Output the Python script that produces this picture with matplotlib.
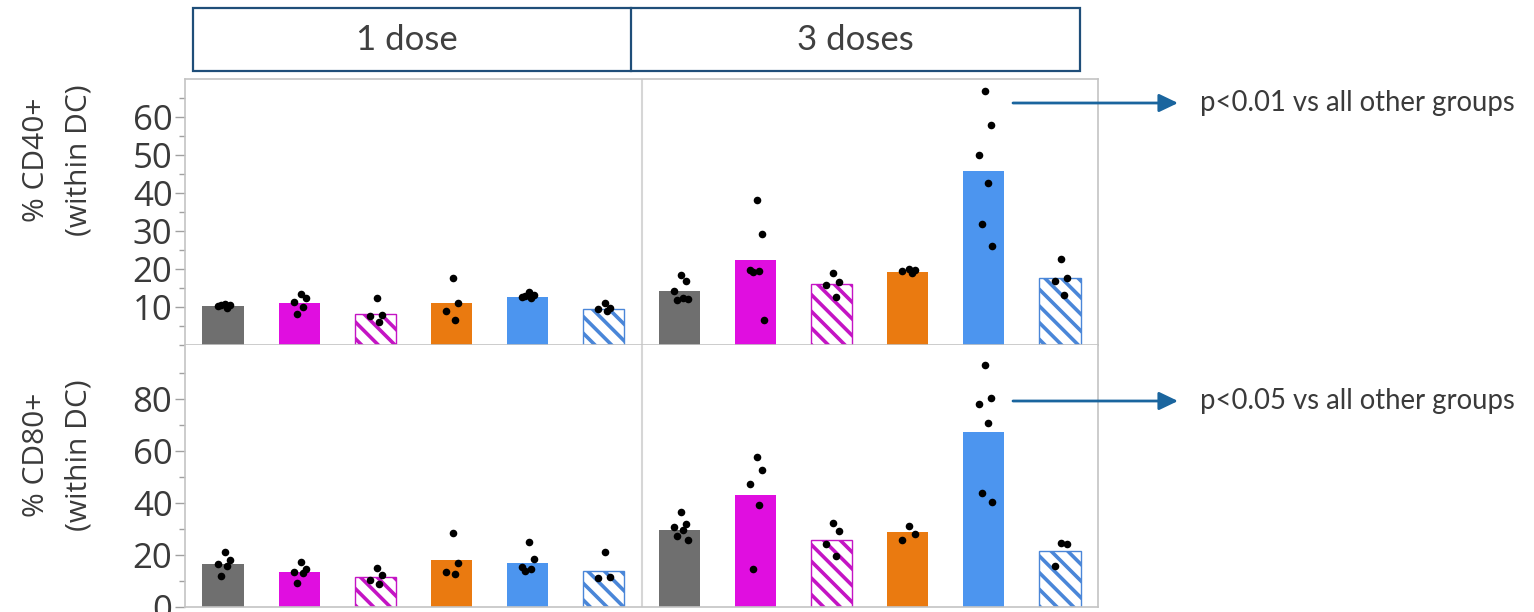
import numpy as np
import matplotlib
matplotlib.use("Agg")
import matplotlib.pyplot as plt
from matplotlib.patches import Rectangle, FancyArrowPatch
from matplotlib.lines import Line2D
from matplotlib.ticker import FixedLocator

# ---------------- data ----------------
groups = ["1 dose", "3 doses"]
n_per_group = 6
bar_colors = ["#6f6f6f", "#e00ee0", "#c414c4", "#ea7a10", "#4c95ef", "#4a86d8"]
hatched = [False, False, True, False, False, True]

cd40_means = [10.2, 10.9, 8.2, 10.9, 12.6, 9.4,
              14.2, 22.3, 15.9, 19.3, 45.9, 17.5]
cd40_points = [
    [10.8, 10.4, 10.1, 9.8, 10.5],
    [13.5, 12.2, 11.3, 10.0, 8.2],
    [12.2, 7.8, 7.6, 6.0],
    [17.7, 11.0, 8.9, 6.5],
    [14.0, 13.2, 12.6, 12.4, 12.8],
    [11.0, 9.6, 9.3, 8.9],
    [18.5, 16.8, 14.2, 12.2, 11.8, 12.0],
    [38.2, 29.1, 19.8, 19.5, 19.2, 6.5],
    [18.9, 16.6, 15.7, 12.6],
    [19.9, 19.6, 19.4, 18.8],
    [66.8, 58.0, 50.1, 42.7, 31.9, 26.0],
    [22.7, 17.6, 16.7, 13.0],
]
cd40_ticks = [10, 20, 30, 40, 50, 60]

cd80_means = [16.3, 13.4, 11.5, 17.8, 16.6, 13.8,
              29.7, 43.0, 25.7, 28.7, 67.5, 21.5]
cd80_points = [
    [21.0, 17.8, 16.3, 15.8, 11.7],
    [17.2, 14.3, 13.4, 13.0, 9.2],
    [15.0, 12.1, 10.2, 8.7],
    [28.3, 16.8, 13.4, 12.5],
    [24.8, 18.5, 15.3, 14.3, 13.8],
    [21.0, 11.2, 11.0],
    [36.3, 31.8, 30.8, 29.5, 27.4, 25.5],
    [57.6, 52.7, 47.4, 39.1, 14.3],
    [32.1, 29.3, 24.2, 19.4],
    [31.1, 28.0, 25.5],
    [93.2, 80.3, 78.0, 71.0, 43.9, 40.5],
    [24.5, 24.0, 15.6],
]
cd80_ticks = [0, 20, 40, 60, 80]

ylabels = ["% CD40+\n(within DC)", "% CD80+\n(within DC)"]
annotations = ["p<0.01 vs all other groups", "p<0.05 vs all other groups"]

# ---------------- style ----------------
W, H = 1534, 612
DPI = 100
plt.rcParams["hatch.linewidth"] = 2.6
plt.rcParams["font.family"] = ["Open Sans", "DejaVu Sans"]

text_color = "#3a3a3a"
spine_color = "#c4c4c4"
navy = "#1f4e79"
arrow_color = "#1a659e"

fig = plt.figure(figsize=(W / DPI, H / DPI), dpi=DPI)

def fx(px):
    return px / W

def fy(py):
    return 1 - py / H

ax_left, ax_right = 185, 1098
ax_top = fig.add_axes([fx(ax_left), fy(344.8), fx(ax_right - ax_left), fy(79) - fy(344.8)])
ax_bot = fig.add_axes([fx(ax_left), fy(606.5), fx(ax_right - ax_left), fy(344.8) - fy(606.5)])

x = np.arange(len(cd40_means))
jitter_pattern = [0.02, 0.09, -0.07, 0.05, -0.03, 0.11]

def draw_panel(ax, means, points, ylim, ticks, minor_ticks):
    for i, (m, pts) in enumerate(zip(means, points)):
        k = i % n_per_group
        col = bar_colors[k]
        if hatched[k]:
            ax.bar(x[i], m, width=0.54, facecolor="white", edgecolor=col,
                   hatch="\\\\", linewidth=1.0, zorder=2)
        else:
            ax.bar(x[i], m, width=0.54, color=col, linewidth=0, zorder=2)
        offs = [jitter_pattern[j % len(jitter_pattern)] for j in range(len(pts))]
        ax.scatter(x[i] + np.array(offs), pts, s=30, color="black", zorder=3,
                   linewidths=0)
    ax.set_xlim(-0.5, 11.5)
    ax.set_ylim(*ylim)
    ax.yaxis.set_major_locator(FixedLocator(ticks))
    ax.yaxis.set_minor_locator(FixedLocator(minor_ticks))
    ax.set_xticks([])
    ax.axvline(5.5, color="#d6d6d6", linewidth=1.5, zorder=1)
    for s in ax.spines.values():
        s.set_color(spine_color)
        s.set_linewidth(1.2)
    ax.tick_params(axis="y", which="major", length=7, width=1, color="#a0a0a0",
                   labelsize=25, labelcolor=text_color, pad=2)
    ax.tick_params(axis="y", which="minor", length=4, width=1, color="#a0a0a0")

draw_panel(ax_top, cd40_means, cd40_points, (0, 70), cd40_ticks,
           [0, 5, 15, 25, 35, 45, 55, 65])
draw_panel(ax_bot, cd80_means, cd80_points, (0, 101), cd80_ticks,
           [10, 30, 50, 70, 90])
ax_bot.spines["top"].set_visible(False)

# y labels
for lab, cy in zip(ylabels, [160, 455]):
    fig.text(fx(58), fy(cy), lab, rotation=90, ha="center", va="center",
             fontsize=21.5, color=text_color, linespacing=1.6,
             family=["Open Sans", "DejaVu Sans"])

# header box
hx0, hx1, hmid, hy0, hy1 = 193, 1080, 631, 8, 71
fig.add_artist(Rectangle((fx(hx0), fy(hy1)), fx(hx1 - hx0), fy(hy0) - fy(hy1),
                         transform=fig.transFigure, fill=False,
                         edgecolor=navy, linewidth=1.6))
fig.add_artist(Line2D([fx(hmid), fx(hmid)], [fy(hy1), fy(hy0)],
                      transform=fig.transFigure, color=navy, linewidth=1.6))
for g, cx in zip(groups, [(hx0 + hmid) / 2 - 5, (hmid + hx1) / 2]):
    fig.text(fx(cx), fy((hy0 + hy1) / 2 + 1), g, ha="center", va="center",
             fontsize=25, color="#404040", family=["Lato", "DejaVu Sans"])

# annotations
for txt, ypx in zip(annotations, [103, 401]):
    arr = FancyArrowPatch((fx(1013), fy(ypx)), (fx(1178), fy(ypx)),
                          transform=fig.transFigure,
                          arrowstyle="-|>,head_length=1.15,head_width=0.55",
                          mutation_scale=10, color=arrow_color, linewidth=2.0,
                          shrinkA=0, shrinkB=0)
    fig.add_artist(arr)
    fig.text(fx(1200), fy(ypx), txt, ha="left", va="center", fontsize=19.8,
             color=text_color, family=["Lato", "DejaVu Sans"])

fig.savefig("out.png", dpi=DPI)
